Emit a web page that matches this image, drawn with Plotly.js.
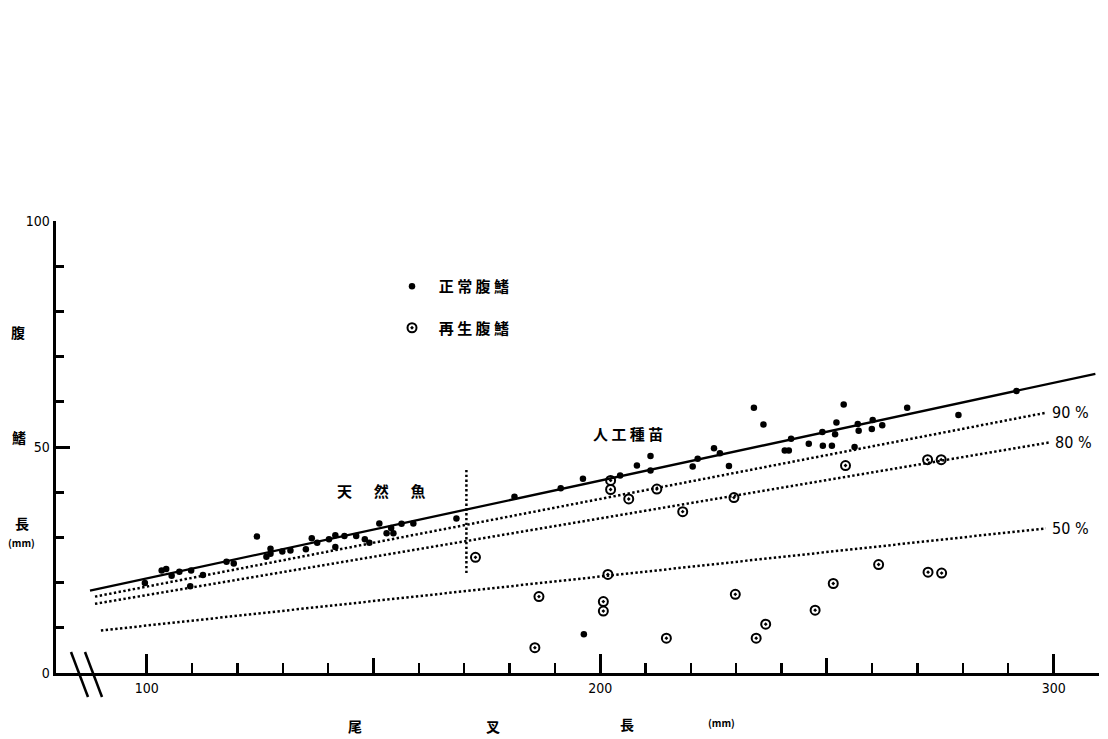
<!DOCTYPE html>
<html>
<head>
<meta charset="utf-8">
<script src="https://cdn.plot.ly/plotly-3.0.1.min.js"></script>
<style>html,body{margin:0;padding:0;background:#fff;}#chart{width:1108px;height:739px;}</style>
</head>
<body>
<div id="chart"></div>
<script>
// 正常腹鰭 (normal ventral fin) : 尾叉長 mm, 腹鰭長 mm
const normalX = [99.6,103.3,104.3,105.5,107.2,109.8,109.6,112.4,117.6,119.2,124.3,126.4,127.3,127.3,129.9,131.7,135.1,136.4,137.6,140.2,141.6,141.6,143.6,146.2,148.1,149.1,151.3,152.9,154.4,153.9,156.2,158.8,168.3,181.1,191.3,196.2,204.4,208.1,211.1,211.1,220.4,221.5,225.1,226.4,228.4,233.9,236.0,240.7,241.6,242.1,246.0,249.1,251.1,249.0,252.1,251.8,253.7,256.1,256.8,257.0,260.1,259.9,262.2,267.7,279.0,291.8,196.4];
const normalY = [19.9,22.7,23.0,21.5,22.4,22.7,19.2,21.7,24.6,24.2,30.2,25.7,27.5,26.4,26.9,27.1,27.4,29.8,28.8,29.6,30.5,27.9,30.3,30.3,29.6,28.8,33.1,30.9,30.9,32.1,33.0,33.1,34.2,39.0,40.9,43.0,43.7,45.9,48.0,44.8,45.7,47.4,49.7,48.6,45.8,58.7,55.0,49.2,49.2,51.8,50.7,50.3,50.3,53.3,55.4,52.8,59.4,50.0,55.1,53.6,56.0,54.0,54.8,58.7,57.1,62.4,8.6];

// 再生腹鰭 (regenerated ventral fin)
const regenX = [172.5,202.3,202.3,206.3,212.5,218.2,229.5,254.1,272.2,275.2,201.7,186.5,200.7,200.7,229.8,214.6,185.6,261.4,272.3,275.3,251.4,247.4,236.5,234.4];
const regenY = [25.6,42.6,40.6,38.5,40.7,35.7,38.8,45.9,47.2,47.2,21.8,16.9,15.8,13.7,17.4,7.7,5.6,24.0,22.3,22.1,19.8,13.9,10.8,7.7];

// 人工種苗 regression line and percentage lines
const lineArtX = [87.5, 309.2];
const lineArtY = [18.2, 66.2];
const line90X = [88.6, 298.4];
const line90Y = [16.9, 57.6];
const line80X = [88.6, 299.0];
const line80Y = [15.3, 51.0];
const line50X = [89.9, 298.3];
const line50Y = [9.4, 32.0];
const pctLabels = ['90 %', '80 %', '50 %'];
// 天然魚 / 人工種苗 divider
const dividerX = [170.5, 170.5];
const dividerY = [22.1, 44.9];

// axis ticks
const xMajorTicks = [100, 200, 300];
const xMidTicks = [150, 250];
const xMinorTicks = [110,120,130,140,160,170,180,190,210,220,230,240,260,270,280,290];

const legendNames = ['\u00a0\u00a0正\u00a0常\u00a0腹\u00a0鰭', '\u00a0\u00a0再\u00a0生\u00a0腹\u00a0鰭'];
const xTitleChars = ['尾', '叉', '長', '(mm)'];
const yTitleChars = ['腹', '鰭', '長', '(mm)'];

const CJK = '"Noto Sans CJK JP", "Noto Sans CJK SC", sans-serif';
const NUM = '"Liberation Sans Narrow", "DejaVu Sans Condensed", "Liberation Sans", sans-serif';
const dotDash = '2.4px,2.4px';

const traces = [
  {x: lineArtX, y: lineArtY, mode: 'lines', line: {color: '#000', width: 2.3}, showlegend: false},
  {x: line90X, y: line90Y, mode: 'lines', line: {color: '#000', width: 2.5, dash: dotDash}, showlegend: false},
  {x: line80X, y: line80Y, mode: 'lines', line: {color: '#000', width: 2.5, dash: dotDash}, showlegend: false},
  {x: line50X, y: line50Y, mode: 'lines', line: {color: '#000', width: 2.5, dash: dotDash}, showlegend: false},
  {x: dividerX, y: dividerY, mode: 'lines', line: {color: '#000', width: 2.5, dash: dotDash}, showlegend: false},
  {x: normalX, y: normalY, mode: 'markers', name: legendNames[0], legendgroup: 'a',
   marker: {symbol: 'circle', size: 6.5, color: '#000'}},
  {x: regenX, y: regenY, mode: 'markers', name: legendNames[1], legendgroup: 'b',
   marker: {symbol: 'circle-open-dot', size: 9, color: '#000', line: {width: 2, color: '#000'}}},
  // carrier for the 150 / 250 medium ticks
  {x: xMidTicks, y: [0, 0], xaxis: 'x2', mode: 'markers', marker: {opacity: 0}, showlegend: false, hoverinfo: 'skip'}
];

const W = 1108, H = 739, ML = 56, MR = 9, MT = 221, MB = 66;
const pw = W - ML - MR, ph = H - MT - MB;
function px2paperX(p) { return (p - ML) / pw; }
function px2paperY(p) { return (H - MB - p) / ph; }

const annotations = [];
// x-axis title characters
const xTitlePx = [[355, 726], [493, 726], [627, 724], [721, 722]];
xTitleChars.forEach((c, i) => annotations.push({
  xref: 'paper', yref: 'paper', x: px2paperX(xTitlePx[i][0]), y: px2paperY(xTitlePx[i][1]),
  text: c, showarrow: false, xanchor: 'center', yanchor: 'middle',
  font: {family: CJK, size: i === 3 ? 10 : 14, color: '#000', weight: 700}
}));
// y-axis title characters
const yTitlePx = [[18, 332], [19, 437], [22, 523], [21, 542]];
yTitleChars.forEach((c, i) => annotations.push({
  xref: 'paper', yref: 'paper', x: px2paperX(yTitlePx[i][0]), y: px2paperY(yTitlePx[i][1]),
  text: c, showarrow: false, xanchor: 'center', yanchor: 'middle',
  font: {family: CJK, size: i === 3 ? 10 : 14, color: '#000', weight: 700}
}));
// group labels
annotations.push({x: 151.7, y: 40.3, xref: 'x', yref: 'y', text: '天\u3000\u00a0\u00a0然\u3000\u00a0\u00a0魚',
  showarrow: false, font: {family: CJK, size: 15, color: '#000', weight: 700}});
annotations.push({x: 206.2, y: 52.9, xref: 'x', yref: 'y', text: '人\u00a0工\u00a0種\u00a0苗',
  showarrow: false, font: {family: CJK, size: 15, color: '#000', weight: 700}});
// percentage labels
[[line90X, line90Y], [line80X, line80Y], [line50X, line50Y]].forEach((l, i) => annotations.push({
  x: l[0][1] + 0.8, y: l[1][1], xref: 'x', yref: 'y', text: pctLabels[i], showarrow: false,
  xanchor: 'left', yanchor: 'middle', font: {family: NUM, size: 16, color: '#000'}
}));

const shapes = [
  {type: 'line', xref: 'paper', yref: 'paper', x0: px2paperX(71), y0: px2paperY(652), x1: px2paperX(88), y1: px2paperY(697), line: {color: '#000', width: 2.5}},
  {type: 'line', xref: 'paper', yref: 'paper', x0: px2paperX(85), y0: px2paperY(652), x1: px2paperX(102), y1: px2paperY(697), line: {color: '#000', width: 2.5}}
];

const layout = {
  width: W, height: H,
  margin: {l: ML, r: MR, t: MT, b: MB, pad: 0},
  paper_bgcolor: '#fff', plot_bgcolor: '#fff',
  showlegend: true,
  legend: {x: px2paperX(392), y: px2paperY(270), xanchor: 'left', yanchor: 'top',
    traceorder: 'grouped', tracegroupgap: 19, bgcolor: 'rgba(0,0,0,0)',
    font: {family: CJK, size: 15, color: '#000', weight: 700}},
  hovermode: false,
  xaxis: {range: [80, 310], showgrid: false, zeroline: false,
    showline: true, linewidth: 3, linecolor: '#000',
    ticks: 'inside', tickmode: 'array', tickvals: xMajorTicks, ticklen: 19, tickwidth: 3, tickcolor: '#000',
    minor: {ticks: 'inside', tickmode: 'array', tickvals: xMinorTicks, ticklen: 10, tickwidth: 2.4, tickcolor: '#000'},
    tickfont: {family: NUM, size: 14, color: '#000'}},
  xaxis2: {range: [80, 310], overlaying: 'x', anchor: 'y', side: 'bottom', showgrid: false, zeroline: false,
    showline: false, showticklabels: false, ticks: 'inside', tickmode: 'array', tickvals: xMidTicks,
    ticklen: 15, tickwidth: 3, tickcolor: '#000'},
  yaxis: {range: [0, 100], showgrid: false, zeroline: false,
    showline: true, linewidth: 3.5, linecolor: '#000',
    ticks: 'inside', tick0: 0, dtick: 50, ticklen: 14, tickwidth: 3, tickcolor: '#000',
    minor: {ticks: 'inside', tick0: 0, dtick: 10, ticklen: 8, tickwidth: 2.6, tickcolor: '#000'},
    tickfont: {family: NUM, size: 14, color: '#000'}},
  annotations: annotations,
  shapes: shapes
};

Plotly.newPlot('chart', traces, layout, {staticPlot: true, displayModeBar: false});
</script>
</body>
</html>
